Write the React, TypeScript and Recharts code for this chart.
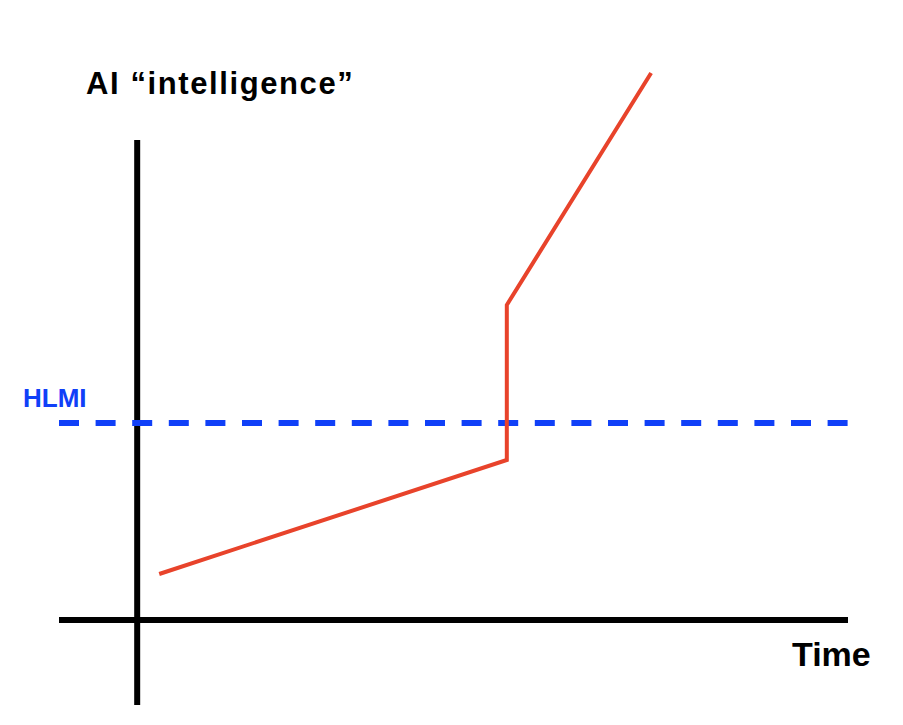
import React from 'react';
import { ComposedChart, Line, XAxis, YAxis, ReferenceLine } from 'recharts';

// time (x) vs AI "intelligence" (y), origin where the two axes cross
const timeValues = [0.31, 5.2, 5.2, 7.23];
const intelligenceValues = [0.92, 3.2, 6.3, 10.94];
const hlmiLevel = 3.94;

const xDomain: [number, number] = [-1.1, 10];
const yDomain: [number, number] = [-1.7, 11.2];
const yAxisTop = 9.6;

const chartData = timeValues.map((t, i) => ({ time: t, intelligence: intelligenceValues[i] }));

const font = '"Liberation Sans", Arial, Helvetica, sans-serif';

const App: React.FC = () => {
    return (
        <div style={{ position: 'absolute', left: 0, top: 0, width: 903, height: 725, background: '#fff' }}>
            <ComposedChart
                width={903}
                height={725}
                data={chartData}
                margin={{ top: 60, right: 55, bottom: 20, left: 59 }}
            >
                <XAxis type="number" dataKey="time" domain={xDomain} allowDataOverflow hide />
                <YAxis type="number" domain={yDomain} allowDataOverflow hide />

                {/* axes drawn as crossing segments */}
                <ReferenceLine
                    segment={[{ x: xDomain[0], y: 0 }, { x: xDomain[1], y: 0 }]}
                    stroke="#000"
                    strokeWidth={6}
                    ifOverflow="visible"
                />
                <ReferenceLine
                    segment={[{ x: 0, y: yDomain[0] }, { x: 0, y: yAxisTop }]}
                    stroke="#000"
                    strokeWidth={6}
                    ifOverflow="visible"
                />

                {/* HLMI threshold */}
                <ReferenceLine
                    segment={[{ x: xDomain[0], y: hlmiLevel }, { x: xDomain[1], y: hlmiLevel }]}
                    stroke="#1040f8"
                    strokeWidth={6}
                    strokeDasharray="20 16.6"
                    ifOverflow="visible"
                />

                <Line
                    type="linear"
                    dataKey="intelligence"
                    stroke="#e8432b"
                    strokeWidth={4}
                    dot={false}
                    activeDot={false}
                    isAnimationActive={false}
                />

                <text x={86} y={94} fontFamily={font} fontWeight="bold" fontSize={31} letterSpacing={1.6} fill="#000">
                    AI “intelligence”
                </text>
                <text x={23} y={407} fontFamily={font} fontWeight="bold" fontSize={26} fill="#1040f8">
                    HLMI
                </text>
                <text x={792} y={666} fontFamily={font} fontWeight="bold" fontSize={34} fill="#000">
                    Time
                </text>
            </ComposedChart>
        </div>
    );
};

export default App;
